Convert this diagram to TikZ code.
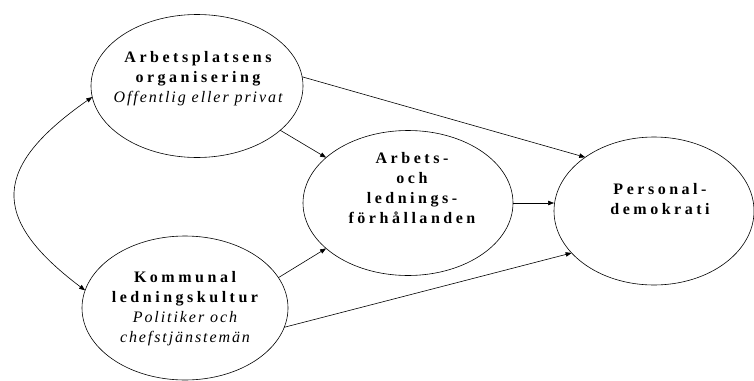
\documentclass[tikz,border=0pt]{standalone}
\usepackage{fontspec}
\setmainfont{Liberation Serif}
\newfontfamily\spb[LetterSpace=22]{Liberation Serif}
\newfontfamily\spi[LetterSpace=12]{Liberation Serif}
\usetikzlibrary{shapes.geometric,arrows.meta}
\begin{document}
\begin{tikzpicture}[x=1pt,y=1pt,
  oval/.style={draw, ellipse, line width=0.6pt, inner sep=0pt, outer sep=0pt},
  lbl/.style={align=center, inner sep=0pt, font=\fontsize{16}{20}\selectfont},
  conn/.style={line width=0.6pt, -{Triangle[length=6pt,width=4.5pt]}},
  b/.style={},
]
\useasboundingbox (0,0) rectangle (754,-380);
\node[oval, minimum width=212pt, minimum height=143pt] (A) at (197,-86) {};
\node[oval, minimum width=206pt, minimum height=144pt] (K) at (185,-308) {};
\node[oval, minimum width=210pt, minimum height=145pt] (M) at (408,-203) {};
\node[oval, minimum width=200pt, minimum height=148pt] (P) at (654,-211) {};

\node[lbl] (At) at (198,-79) {{\spb\bfseries Arbetsplatsens}\\{\spb\bfseries organisering}\\{\spi\itshape Offentlig eller privat}};
\node[lbl] (Kt) at (185,-309) {{\spb\bfseries Kommunal}\\{\spb\bfseries ledningskultur}\\{\spi\itshape Politiker och}\\{\spi\itshape chefstjänstemän}};
\node[lbl] (Mt) at (412,-188) {{\spb\bfseries Arbets-}\\{\spb\bfseries och}\\{\spb\bfseries lednings-}\\{\spb\bfseries förhållanden}};
\node[lbl] (Pt) at (660,-199) {{\spb\bfseries Personal-}\\{\spb\bfseries demokrati}};

\draw[conn] (A.5) -- (P.142);
\draw[conn] (A.332) -- (M.151);
\draw[conn] (M.east) -- (M.east -| P.west);
\draw[conn] (K.18) -- (M.209);
\draw[conn] (K.349) -- (P.207);
\draw[line width=0.6pt, {Triangle[length=6pt,width=4.5pt]}-{Triangle[length=6pt,width=4.5pt]}]
  (A.186) to[out=215, in=143, looseness=1.6] (K.170);
\end{tikzpicture}
\end{document}
